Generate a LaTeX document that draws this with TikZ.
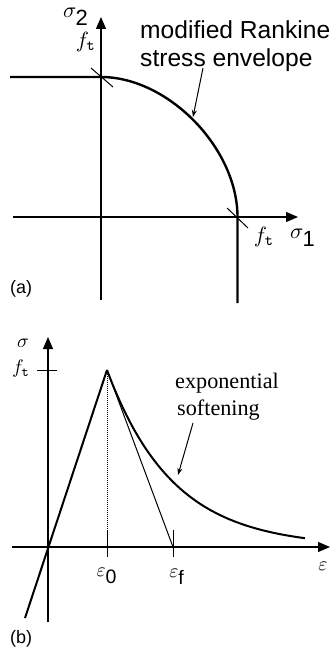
\documentclass[tikz,border=0pt]{standalone}
\usepackage{graphicx}
\usepackage{fontspec}
\setmainfont{Liberation Serif}
\setsansfont{Liberation Sans}
\usetikzlibrary{arrows.meta}
\newcommand{\mA}[1]{\scalebox{2.2}{$#1$}}
\newcommand{\mB}[1]{\scalebox{1.95}{$#1$}}
\tikzset{
  axis/.style={line width=1.2pt,-{Triangle[length=12pt,width=10pt]}},
  thickline/.style={line width=2.4pt},
  curveline/.style={line width=2pt},
  thinline/.style={line width=1pt},
  tickline/.style={line width=1pt},
  pointer/.style={line width=1pt,-{Stealth[length=7pt,width=5pt]}},
  mathlabel/.style={inner sep=0pt},
  sanslabel/.style={inner sep=0pt,anchor=base west,font=\sffamily\fontsize{24.6}{28}\selectfont},
  seriflabel/.style={inner sep=0pt,anchor=base west,font=\fontsize{22.2}{26}\selectfont},
  panellabel/.style={inner sep=0pt,anchor=base west,font=\sffamily\fontsize{18}{21}\selectfont}
}
\begin{document}
\begin{tikzpicture}[x=1pt,y=-1pt]
\useasboundingbox (0,0) rectangle (332,658);
% ---------- panel (a) ----------
\coordinate (aYb) at (101,300);
\coordinate (aYt) at (101,17);
\coordinate (aXl) at (13,217);
\coordinate (aXr) at (298,217);
\draw[axis] (aYb) -- (aYt);
\draw[axis] (aXl) -- (aXr);
\coordinate (eL) at (10,77);
\coordinate (eT) at (101,77);
\coordinate (eR) at (237.5,217);
\coordinate (eB) at (237.5,303);
\draw[thickline] (eL) -- (eT) .. controls (168,77) and (237.5,148) .. (eR) -- (eB);
\coordinate (t1a) at (91,68);
\coordinate (t1b) at (113,87);
\draw[tickline] (t1a) -- (t1b);
\coordinate (t2a) at (227,208);
\coordinate (t2b) at (248,228);
\draw[tickline] (t2a) -- (t2b);
\node[mathlabel] (sig2) at (76,17) {\mA{\sigma_{\textsf{2}}}};
\node[mathlabel] (fta) at (86,42) {\mA{f_{\mathtt{t}}}};
\node[mathlabel] (ftb) at (264,237) {\mA{f_{\mathtt{t}}}};
\node[mathlabel] (sig1) at (303,238) {\mA{\sigma_{\textsf{1}}}};
\node[sanslabel] (rank1) at (140,39) {modified Rankine};
\node[sanslabel] (rank2) at (140,67) {stress envelope};
\coordinate (pa1) at (203,68);
\coordinate (pa2) at (193,117);
\draw[pointer] (pa1) -- (pa2);
\node[panellabel] (la) at (10,293) {(a)};
% ---------- panel (b) ----------
\coordinate (bYb) at (48,622);
\coordinate (bYt) at (48,337);
\coordinate (bXl) at (12,547);
\coordinate (bXr) at (330,547);
\draw[axis] (bYb) -- (bYt);
\draw[axis] (bXl) -- (bXr);
\coordinate (ftl) at (37,370);
\coordinate (ftr) at (57,370);
\draw[tickline] (ftl) -- (ftr);
\coordinate (peak) at (107,370);
\coordinate (low) at (25,618);
\draw[curveline] (low) -- (peak);
\coordinate (e0t) at (107,530);
\coordinate (e0b) at (107,557);
\draw[thinline,densely dotted] (peak) -- (e0t);
\draw[tickline] (e0t) -- (e0b);
\coordinate (eft) at (173,530);
\coordinate (efb) at (173,557);
\draw[tickline] (eft) -- (efb);
\coordinate (efx) at (173,547);
\draw[thinline] (peak) -- (efx);
\draw[curveline] plot[domain=107:305,samples=80,smooth] (\x,{547-177*exp(-(\x-107)/66)});
\node[mathlabel] (sig) at (23,343) {\mB{\sigma}};
\node[mathlabel] (ftB) at (21,369) {\mB{f_{\mathtt{t}}}};
\node[mathlabel] (eps0) at (107,576) {\mB{\varepsilon_{\textsf{0}}}};
\node[mathlabel] (epsf) at (177,577) {\mB{\varepsilon_{\textsf{f}}}};
\node[mathlabel] (eps) at (323,566) {\mB{\varepsilon}};
\node[seriflabel] (exp1) at (175,388) {exponential};
\node[seriflabel] (exp2) at (177,415) {softening};
\coordinate (pb1) at (193,423);
\coordinate (pb2) at (178,475);
\draw[pointer] (pb1) -- (pb2);
\node[panellabel] (lb) at (10,643) {(b)};
\end{tikzpicture}
\end{document}
